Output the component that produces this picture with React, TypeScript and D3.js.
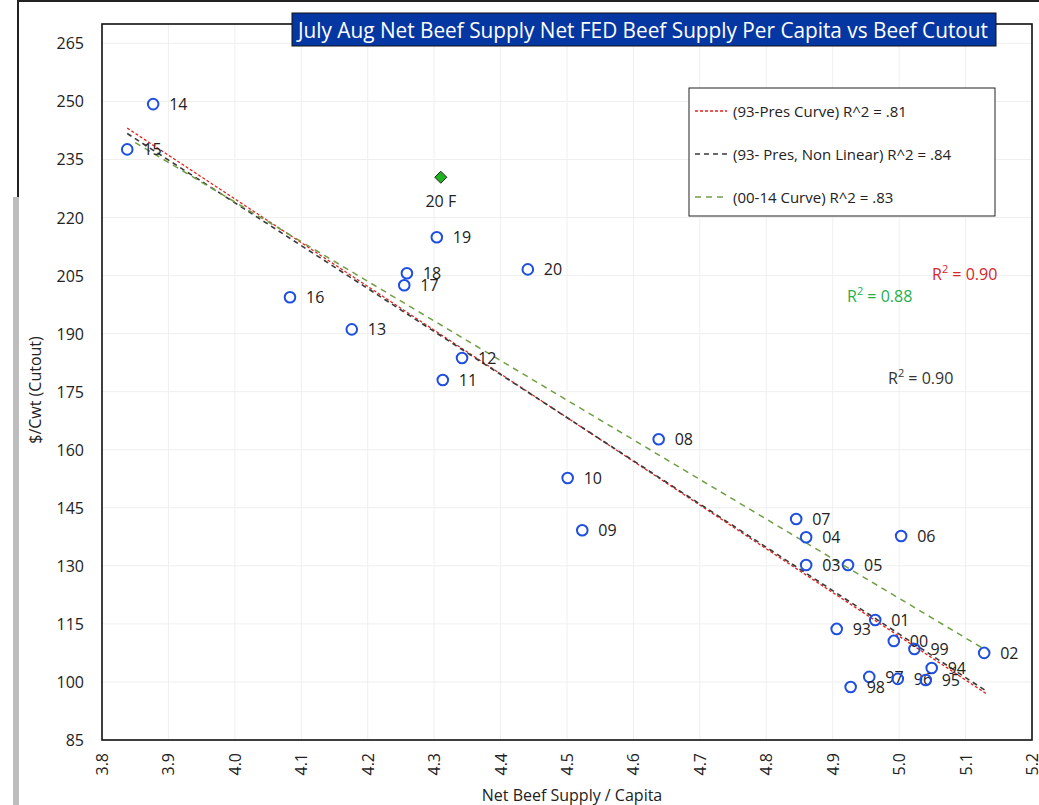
import React from 'react'
import * as d3 from 'd3'

const width = 1039
const height = 805
const plotLeft = 102
const plotRight = 1032
const plotTop = 24
const plotBottom = 740

const font = '"Open Sans", "DejaVu Sans", sans-serif'

// years (labels), net beef supply per capita, cutout $/cwt
const yearLabels = ['14', '15', '16', '13', '17', '18', '19', '12', '11', '20', '10', '09', '08', '07', '04', '06', '03', '05', '01', '93', '00', '99', '02', '94', '97', '96', '95', '98']
const supplyValues = [3.877, 3.838, 4.083, 4.176, 4.255, 4.259, 4.304, 4.342, 4.313, 4.441, 4.501, 4.523, 4.638, 4.845, 4.86, 5.003, 4.86, 4.923, 4.964, 4.906, 4.992, 5.023, 5.128, 5.049, 4.955, 4.998, 5.04, 4.927]
const cutoutValues = [249.3, 237.6, 199.4, 191.1, 202.5, 205.6, 214.9, 183.7, 178.0, 206.6, 152.7, 139.2, 162.7, 142.1, 137.4, 137.7, 130.2, 130.2, 116.0, 113.7, 110.6, 108.5, 107.5, 103.6, 101.3, 100.8, 100.5, 98.7]

const forecastLabels = ['20 F']
const forecastSupply = [4.31]
const forecastCutout = [230.4]

const xTicks = [3.8, 3.9, 4.0, 4.1, 4.2, 4.3, 4.4, 4.5, 4.6, 4.7, 4.8, 4.9, 5.0, 5.1, 5.2]
const yTicks = [85, 100, 115, 130, 145, 160, 175, 190, 205, 220, 235, 250, 265]

// trend lines: polynomial coefficients c0 + c1*x + c2*x^2 and x extent
const trendNames = ['(93-Pres Curve) R^2 = .81', '(93- Pres, Non Linear) R^2 = .84', '(00-14 Curve) R^2 = .83']
const trendCoefs = [
  [676.8, -113.0, 0],
  [652.73, -103.87, -0.84],
  [633.6, -102.4, 0],
]
const trendExtents = [
  [3.838, 5.132],
  [3.838, 5.13],
  [3.85, 5.13],
]
const trendColors = ['#e3211c', '#3a3a3a', '#6f9e45']
const trendDashes = ['3,2', '5,4', '6,5']
const trendWidths = [1.3, 1.6, 1.5]

const x = d3.scaleLinear().domain([3.8, 5.2]).range([plotLeft, plotRight])
const y = d3.scaleLinear().domain([85, 270]).range([plotBottom, plotTop])

const line = d3
  .line<number[]>()
  .x(d => x(d[0]))
  .y(d => y(d[1]))

const trendPaths = trendCoefs.map((c, i) => {
  const [x0, x1] = trendExtents[i]
  const pts = d3.range(0, 41).map(k => {
    const xv = x0 + ((x1 - x0) * k) / 40
    return [xv, c[0] + c[1] * xv + c[2] * xv * xv]
  })
  return line(pts)
})

export default function App() {
  return (
    <svg
      width={width}
      height={height}
      style={{ position: 'absolute', left: 0, top: 0, background: '#fff' }}
      fontFamily={font}
    >
      {/* frame remnants */}
      <rect x={18} y={0} width={1021} height={2} fill="#222" />
      <rect x={17} y={0} width={2} height={197} fill="#222" />
      <rect x={13} y={197} width={6} height={608} fill="#bdbdbd" />

      {/* grid */}
      {xTicks.map(t => (
        <line key={'gx' + t} x1={x(t)} x2={x(t)} y1={plotTop} y2={plotBottom} stroke="#efefef" />
      ))}
      {yTicks.map(t => (
        <line key={'gy' + t} x1={plotLeft} x2={plotRight} y1={y(t)} y2={y(t)} stroke="#efefef" />
      ))}

      {/* plot border */}
      <rect x={plotLeft} y={plotTop} width={plotRight - plotLeft} height={plotBottom - plotTop} fill="none" stroke="#111" strokeWidth={1.6} />

      {/* y axis labels */}
      {yTicks.map(t => (
        <text key={'yl' + t} x={84} y={y(t)} textAnchor="end" dominantBaseline="central" fontSize={16} fill="#222">
          {t}
        </text>
      ))}
      {/* x axis labels */}
      {xTicks.map(t => (
        <text
          key={'xl' + t}
          transform={`translate(${x(t)},753) rotate(-90)`}
          textAnchor="end"
          dominantBaseline="central"
          fontSize={16}
          fill="#222"
        >
          {t.toFixed(1)}
        </text>
      ))}
      <text x={572} y={795} textAnchor="middle" dominantBaseline="central" fontSize={16} fill="#222">
        Net Beef Supply / Capita
      </text>
      <text transform="translate(35,390) rotate(-90)" textAnchor="middle" dominantBaseline="central" fontSize={16} fill="#222">
        $/Cwt (Cutout)
      </text>

      {/* trend lines */}
      {trendPaths.map((d, i) => (
        <path key={'t' + i} d={d || ''} fill="none" stroke={trendColors[i]} strokeWidth={trendWidths[i]} strokeDasharray={trendDashes[i]} />
      ))}

      {/* points */}
      {supplyValues.map((s, i) => (
        <g key={'p' + i}>
          <circle cx={x(s)} cy={y(cutoutValues[i])} r={5.3} fill="none" stroke="#1f4fe0" strokeWidth={2} />
          <text x={x(s) + 16} y={y(cutoutValues[i])} dominantBaseline="central" fontSize={16} fill="#222">
            {yearLabels[i]}
          </text>
        </g>
      ))}
      {forecastSupply.map((s, i) => {
        const cx = x(s)
        const cy = y(forecastCutout[i])
        return (
          <g key={'f' + i}>
            <path d={`M${cx},${cy - 6}L${cx + 6},${cy}L${cx},${cy + 6}L${cx - 6},${cy}Z`} fill="#1fb31f" stroke="#222" strokeWidth={1} />
            <text x={cx} y={cy + 24} textAnchor="middle" dominantBaseline="central" fontSize={16} fill="#222">
              {forecastLabels[i]}
            </text>
          </g>
        )
      })}

      {/* R^2 annotations */}
      <text x={932} y={274} dominantBaseline="central" fontSize={16} fill="#d4262b">
        R<tspan fontSize={11} dy={-6}>2</tspan>
        <tspan dy={6}> = 0.90</tspan>
      </text>
      <text x={847} y={296} dominantBaseline="central" fontSize={16} fill="#22b04b">
        R<tspan fontSize={11} dy={-6}>2</tspan>
        <tspan dy={6}> = 0.88</tspan>
      </text>
      <text x={888} y={378} dominantBaseline="central" fontSize={16} fill="#333">
        R<tspan fontSize={11} dy={-6}>2</tspan>
        <tspan dy={6}> = 0.90</tspan>
      </text>

      {/* legend */}
      <rect x={689} y={88} width={306} height={128} fill="#fff" stroke="#222" strokeWidth={1} />
      {trendNames.map((n, i) => (
        <g key={'lg' + i}>
          <line x1={695} x2={727} y1={111 + i * 43} y2={111 + i * 43} stroke={trendColors[i]} strokeWidth={trendWidths[i]} strokeDasharray={trendDashes[i]} />
          <text x={733} y={111 + i * 43} dominantBaseline="central" fontSize={15} fill="#222">
            {n}
          </text>
        </g>
      ))}

      {/* title */}
      <rect x={292} y={13} width={704} height={33} fill="#0537a3" stroke="#111" strokeWidth={1} />
      <text x={298} y={30} dominantBaseline="central" fontSize={21} fill="#fff" textLength={690} lengthAdjust="spacingAndGlyphs">
        July Aug Net Beef Supply Net FED Beef Supply Per Capita vs Beef Cutout
      </text>
    </svg>
  )
}
